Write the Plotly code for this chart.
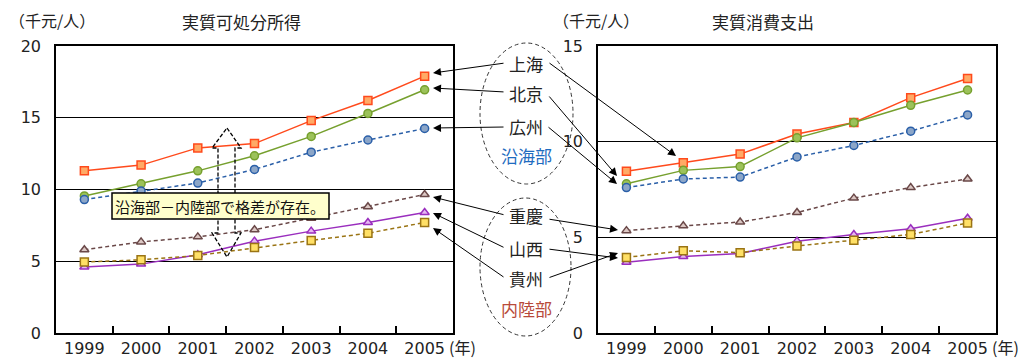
import plotly.graph_objects as go

years = ["1999", "2000", "2001", "2002", "2003", "2004", "2005"]
year_labels = ["1999", "2000", "2001", "2002", "2003", "2004", "2005"]

# 実質可処分所得 (千元/人)
inc_shanghai = [11.3, 11.7, 12.9, 13.2, 14.8, 16.2, 17.9]
inc_beijing = [9.55, 10.4, 11.3, 12.35, 13.7, 15.3, 16.95]
inc_guangzhou = [9.3, 9.9, 10.45, 11.4, 12.6, 13.45, 14.25]
inc_chongqing = [5.8, 6.35, 6.7, 7.2, 8.0, 8.8, 9.65]
inc_shanxi = [4.6, 4.8, 5.45, 6.4, 7.1, 7.7, 8.4]
inc_guizhou = [4.95, 5.1, 5.4, 5.95, 6.45, 6.95, 7.7]

# 実質消費支出 (千元/人)
con_shanghai = [8.45, 8.9, 9.35, 10.4, 11.0, 12.3, 13.3]
con_beijing = [7.8, 8.5, 8.7, 10.2, 11.0, 11.9, 12.7]
con_guangzhou = [7.6, 8.05, 8.15, 9.2, 9.8, 10.55, 11.4]
con_chongqing = [5.35, 5.6, 5.8, 6.3, 7.05, 7.6, 8.05]
con_shanxi = [3.7, 4.0, 4.15, 4.8, 5.15, 5.45, 6.0]
con_guizhou = [3.95, 4.3, 4.2, 4.55, 4.85, 5.15, 5.75]

FONT = "Noto Sans CJK JP"
NUMFONT = "DejaVu Sans"

styles = [
    ("上海", "#FF4A1C", "#FFAA66", "square", "solid"),
    ("北京", "#76A02E", "#9CC25A", "circle", "solid"),
    ("広州", "#2A5FA8", "#8CA6C8", "circle", "4px,3px"),
    ("重慶", "#6A4848", "#DCC8C4", "triangle-up", "4px,3px"),
    ("山西", "#9A2EBE", "#E6B8F2", "triangle-up", "solid"),
    ("貴州", "#9A7414", "#FFE066", "square", "4px,3px"),
]

income = [inc_shanghai, inc_beijing, inc_guangzhou, inc_chongqing, inc_shanxi, inc_guizhou]
consumption = [con_shanghai, con_beijing, con_guangzhou, con_chongqing, con_shanxi, con_guizhou]

fig = go.Figure()
for (name, lc, fc, sym, dash), vals in zip(styles, income):
    fig.add_trace(go.Scatter(x=years, y=vals, name=name, mode="lines+markers",
                             line=dict(color=lc, width=1.5, dash=dash),
                             marker=dict(symbol=sym, size=8, color=fc, line=dict(color=lc, width=1.5)),
                             xaxis="x", yaxis="y", showlegend=False))
for (name, lc, fc, sym, dash), vals in zip(styles, consumption):
    fig.add_trace(go.Scatter(x=years, y=vals, name=name, mode="lines+markers",
                             line=dict(color=lc, width=1.5, dash=dash),
                             marker=dict(symbol=sym, size=8, color=fc, line=dict(color=lc, width=1.5)),
                             xaxis="x2", yaxis="y2", showlegend=False))

W, H = 1028, 361
def px(x):
    return x / W
def py(y):
    return 1 - y / H

ydom = [py(333), py(46)]
xcommon = dict(type="category", categoryorder="array", categoryarray=years,
               tickvals=years, ticktext=year_labels,
               range=[-0.5, 6.5], ticks="inside", tickson="boundaries", ticklen=7,
               tickcolor="black", tickwidth=1.5, showline=True, linecolor="black", linewidth=1.5,
               mirror=True, showgrid=False, automargin=False, ticklabelstandoff=0,
               tickfont=dict(family=NUMFONT, size=16, color="#222"))
ycommon = dict(ticks="", showline=True, linecolor="black", linewidth=1.5, mirror=True,
               showgrid=True, gridcolor="black", gridwidth=1.2, zeroline=False, dtick=5,
               automargin=False, ticklabelstandoff=10,
               tickfont=dict(family=NUMFONT, size=16, color="#222"))

fig.update_layout(
    width=W, height=H, margin=dict(l=0, r=0, t=0, b=0),
    paper_bgcolor="white", plot_bgcolor="white",
    xaxis=dict(domain=[px(56), px(453)], anchor="y", **xcommon),
    yaxis=dict(domain=ydom, range=[0, 20], anchor="x", **ycommon),
    xaxis2=dict(domain=[px(598), px(996)], anchor="y2", **xcommon),
    yaxis2=dict(domain=ydom, range=[0, 15], anchor="x2", **ycommon),
)

anns = []
def text(x, y, s, size=16, color="#222", xanchor="center", yanchor="middle"):
    anns.append(dict(x=px(x), y=py(y), xref="paper", yref="paper", text=s, showarrow=False,
                     font=dict(family=FONT, size=size, color=color), xanchor=xanchor, yanchor=yanchor,
                     borderpad=0))

text(8, 20, "（千元/人）", 16, xanchor="left")
text(241, 22, "実質可処分所得", 17)
text(552, 20, "（千元/人）", 16, xanchor="left")
text(763, 22, "実質消費支出", 17)
text(448, 360, "(年)", 16, xanchor="left", yanchor="bottom")
text(991, 360, "(年)", 16, xanchor="left", yanchor="bottom")

text(526, 63, "上海", 17)
text(526, 94, "北京", 17)
text(526, 126, "広州", 17)
text(526, 155, "沿海部", 17, color="#1F6CC0")
text(526, 216, "重慶", 17)
text(526, 248, "山西", 17)
text(526, 278, "貴州", 17)
text(526, 308, "内陸部", 17, color="#B84A3A")

arrows = [
    ((505, 63), (433, 73)),
    ((505, 92), (433, 88)),
    ((505, 127), (433, 128)),
    ((548, 62), (676, 156)),
    ((548, 95), (617, 176)),
    ((547, 126), (617, 184)),
    ((505, 215), (433, 197)),
    ((505, 248), (433, 213)),
    ((505, 278), (433, 228)),
    ((548, 219), (618, 230)),
    ((548, 249), (618, 258)),
    ((548, 278), (618, 253)),
]
for (tx, ty), (hx, hy) in arrows:
    anns.append(dict(x=px(hx), y=py(hy), xref="paper", yref="paper", ax=tx - hx, ay=ty - hy,
                     axref="pixel", ayref="pixel", text="", showarrow=True,
                     arrowhead=2, arrowsize=1.6, arrowwidth=1, arrowcolor="black"))

anns.append(dict(x=px(220), y=py(206), xref="paper", yref="paper", text="沿海部－内陸部で格差が存在。",
                 showarrow=False, font=dict(family=FONT, size=15, color="#111"),
                 xanchor="center", yanchor="middle"))

shapes = []
# dashed ellipses
shapes.append(dict(type="circle", xref="paper", yref="paper", x0=px(480), x1=px(573), y0=py(184), y1=py(43),
                   line=dict(color="#333", width=1, dash="4px,3px")))
shapes.append(dict(type="circle", xref="paper", yref="paper", x0=px(480), x1=px(571), y0=py(336), y1=py(198),
                   line=dict(color="#333", width=1, dash="4px,3px")))
# hollow double arrow
pts = [(227, 128), (241, 148), (235, 148), (235, 233), (241, 233), (227, 257),
       (212, 233), (218, 233), (218, 148), (212, 148)]
path = "M " + " L ".join(f"{px(x):.5f},{py(y):.5f}" for x, y in pts) + " Z"
shapes.append(dict(type="path", xref="paper", yref="paper", path=path,
                   line=dict(color="#000", width=1.3, dash="4px,2px"), fillcolor="rgba(0,0,0,0)"))
# callout box
shapes.append(dict(type="rect", xref="paper", yref="paper", x0=px(112), x1=px(329), y0=py(219), y1=py(193),
                   line=dict(color="black", width=1.5), fillcolor="#FFFFCC"))

fig.update_layout(annotations=anns, shapes=shapes)
fig.write_html("out.html", config={"displayModeBar": False},
               post_script="document.body.style.margin='0px';")
